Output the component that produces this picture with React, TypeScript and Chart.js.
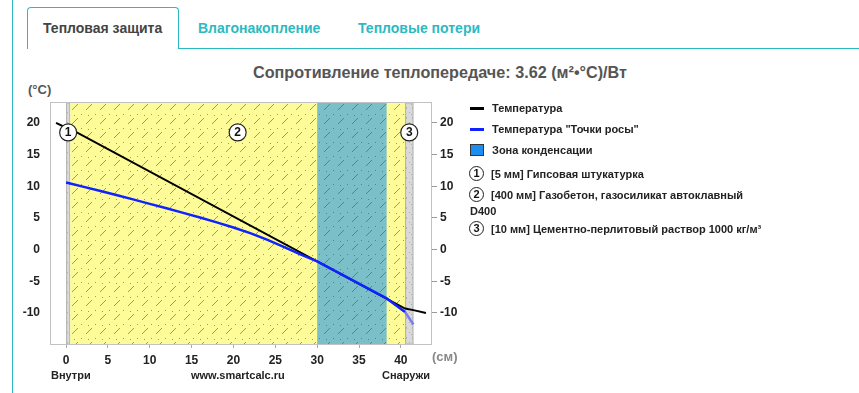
import React, { useEffect, useRef } from "react";
import Chart from "chart.js/auto";

// ---- data ----
const xTicks = [0, 5, 10, 15, 20, 25, 30, 35, 40];
const yTicks = [-10, -5, 0, 5, 10, 15, 20];
const xMin = -1.8;
const xMax = 43.6;
const yMin = -14.9;
const yMax = 23.15;

const tempX = [-1.2, 0, 0.5, 40.5, 41.5, 43];
const tempY = [20, 19.25, 19.05, -9.3, -9.55, -10];

const dewX = [0, 0.5, 2, 4, 6, 8, 10, 12, 14, 16, 18, 20, 22, 24, 26, 28, 30, 38.3, 40.5, 41.5];
const dewY = [10.6, 10.45, 9.95, 9.3, 8.62, 7.93, 7.23, 6.52, 5.8, 5.07, 4.3, 3.5, 2.6, 1.58, 0.45, -0.75, -1.85, -7.7, -9.85, -11.8];

const layerThicknessMm = [5, 400, 10];
const layerNames = [
  "Гипсовая штукатурка",
  "Газобетон, газосиликат автоклавный",
  "Цементно-перлитовый раствор 1000 кг/м³",
];
const layerKinds = ["plaster", "aerated", "plaster"];
const condensationZone = [30, 38.3];
const markerTemp = 18.5;

const titleText = "Сопротивление теплопередаче: 3.62 (м²•°C)/Вт";
const tabLabels = ["Тепловая защита", "Влагонакопление", "Тепловые потери"];

const FONT = "'Liberation Sans', Arial, sans-serif";
const TEAL = "#2bbac2";

function makeHatch(bg: string, mark: string) {
  const c = document.createElement("canvas");
  c.width = 14;
  c.height = 14;
  const g = c.getContext("2d")!;
  g.fillStyle = bg;
  g.fillRect(0, 0, 14, 14);
  g.strokeStyle = mark;
  g.lineWidth = 1;
  g.beginPath();
  g.moveTo(2, 12);
  g.lineTo(8, 6);
  g.stroke();
  g.fillStyle = mark;
  g.fillRect(11, 2, 1, 1);
  g.fillRect(4, 3, 1, 1);
  return c;
}

function makeSpeckle() {
  const c = document.createElement("canvas");
  c.width = 6;
  c.height = 10;
  const g = c.getContext("2d")!;
  g.fillStyle = "#d9d9d9";
  g.fillRect(0, 0, 6, 10);
  g.fillStyle = "#b0b0b0";
  g.fillRect(1, 2, 1, 1);
  g.fillRect(4, 7, 1, 2);
  g.fillRect(3, 4, 1, 1);
  return c;
}

function App() {
  const ref = useRef<HTMLCanvasElement | null>(null);

  useEffect(() => {
    const canvas = ref.current!;
    const starts: number[] = [];
    let acc = 0;
    layerThicknessMm.forEach((t) => {
      starts.push(acc / 10);
      acc += t;
    });
    const ends = layerThicknessMm.map((t, i) => starts[i] + t / 10);

    const bandsPlugin = {
      id: "bands",
      beforeDatasetsDraw(chart: any) {
        const { ctx, chartArea, scales } = chart;
        const xs = scales.x;
        const yellow = ctx.createPattern(makeHatch("#fdfc98", "#979780"), "repeat");
        const teal = ctx.createPattern(makeHatch("#7bbfc8", "#4b7fc4"), "repeat");
        const gray = ctx.createPattern(makeSpeckle(), "repeat");
        ctx.save();
        const top = chartArea.top;
        const h = chartArea.bottom - chartArea.top;
        layerKinds.forEach((k, i) => {
          const a = xs.getPixelForValue(starts[i]);
          const b = xs.getPixelForValue(ends[i]);
          ctx.fillStyle = k === "plaster" ? gray : yellow;
          ctx.fillRect(a, top, b - a, h);
          if (k === "plaster") {
            ctx.strokeStyle = "#b4b4b4";
            ctx.lineWidth = 1;
            ctx.strokeRect(a + 0.5, top, b - a - 1, h);
          }
        });
        const ca = xs.getPixelForValue(condensationZone[0]);
        const cb = xs.getPixelForValue(condensationZone[1]);
        ctx.fillStyle = teal;
        ctx.fillRect(ca, top, cb - ca, h);
        ctx.restore();
      },
      afterDatasetsDraw(chart: any) {
        const { ctx, chartArea, scales } = chart;
        const xs = scales.x;
        const ys = scales.y;
        ctx.save();
        ctx.strokeStyle = "#c2c2c2";
        ctx.lineWidth = 1;
        ctx.strokeRect(
          Math.round(chartArea.left) - 0.5,
          Math.round(chartArea.top) - 0.5,
          Math.round(chartArea.right - chartArea.left) + 1,
          Math.round(chartArea.bottom - chartArea.top) + 1
        );
        const cy = ys.getPixelForValue(markerTemp);
        layerThicknessMm.forEach((t, i) => {
          const cx = xs.getPixelForValue((starts[i] + ends[i]) / 2);
          ctx.beginPath();
          ctx.arc(cx, cy, 8.5, 0, Math.PI * 2);
          ctx.fillStyle = "#ffffff";
          ctx.fill();
          ctx.strokeStyle = "#222";
          ctx.lineWidth = 1.2;
          ctx.stroke();
          ctx.fillStyle = "#111";
          ctx.font = `bold 12px ${FONT}`;
          ctx.textAlign = "center";
          ctx.textBaseline = "middle";
          ctx.fillText(String(i + 1), cx, cy + 0.5);
        });
        ctx.restore();
      },
    };

    const tickFont = { family: FONT, size: 12, weight: "bold" as const };
    const chart = new Chart(canvas, {
      type: "line",
      data: {
        datasets: [
          {
            label: "Температура",
            data: tempX.map((x, i) => ({ x, y: tempY[i] })),
            borderColor: "#000000",
            borderWidth: 2,
            pointRadius: 0,
            tension: 0,
            order: 1,
          },
          {
            label: 'Температура "Точки росы"',
            data: dewX.map((x, i) => ({ x, y: dewY[i] })),
            borderColor: "#1023ff",
            borderWidth: 2.5,
            pointRadius: 0,
            tension: 0,
            order: 0,
            segment: {
              borderColor: (c: any) => (c.p0.parsed.x >= ends[1] ? "rgba(100,100,255,0.8)" : "#1023ff"),
            },
          },
        ],
      },
      options: {
        responsive: false,
        animation: false,
        layout: { padding: { left: 11, right: 396, top: 103, bottom: 24 } },
        plugins: { legend: { display: false }, title: { display: false }, tooltip: { enabled: false } },
        scales: {
          x: {
            type: "linear",
            min: xMin,
            max: xMax,
            afterBuildTicks: (s: any) => {
              s.ticks = xTicks.map((v) => ({ value: v }));
            },
            afterFit: (s: any) => {
              s.height = 25;
            },
            grid: { drawOnChartArea: false, tickLength: 4, color: "#aaaaaa" },
            border: { display: false },
            ticks: { font: tickFont, color: "#222", padding: 5, maxRotation: 0 },
          },
          y: {
            type: "linear",
            position: "left",
            min: yMin,
            max: yMax,
            afterBuildTicks: (s: any) => {
              s.ticks = yTicks.map((v) => ({ value: v }));
            },
            afterFit: (s: any) => {
              s.width = 40;
            },
            grid: { display: false, drawTicks: false },
            border: { display: false },
            ticks: { font: tickFont, color: "#222", padding: 11 },
          },
          y2: {
            type: "linear",
            position: "right",
            min: yMin,
            max: yMax,
            afterBuildTicks: (s: any) => {
              s.ticks = yTicks.map((v) => ({ value: v }));
            },
            afterFit: (s: any) => {
              s.width = 32;
            },
            grid: { drawOnChartArea: false, tickLength: 6, color: "#999999" },
            border: { display: false },
            ticks: { font: tickFont, color: "#222", padding: 3 },
          },
        },
      },
      plugins: [bandsPlugin],
    } as any);
    return () => chart.destroy();
  }, []);

  const abs = (s: React.CSSProperties): React.CSSProperties => ({ position: "absolute", whiteSpace: "nowrap", ...s });
  const legendText: React.CSSProperties = { fontSize: 11, fontWeight: "bold", color: "#222", lineHeight: "14px" };
  const circle = (n: number, left: number, top: number) => (
    <div
      style={abs({
        left,
        top,
        width: 13,
        height: 13,
        border: "1.2px solid #222",
        borderRadius: "50%",
        fontSize: 11,
        fontWeight: "bold",
        lineHeight: "13px",
        textAlign: "center",
        color: "#111",
        background: "#fff",
      })}
    >
      {n}
    </div>
  );

  return (
    <div
      style={{
        position: "absolute",
        left: 0,
        top: 0,
        width: 859,
        height: 393,
        overflow: "hidden",
        background: "#fff",
        fontFamily: FONT,
      }}
    >
      <div style={abs({ left: 12, top: 0, width: 1, height: 393, background: TEAL })} />
      <div
        style={abs({
          left: 27,
          top: 7,
          width: 152,
          height: 42,
          boxSizing: "border-box",
          border: `1px solid ${TEAL}`,
          borderBottom: "none",
          borderRadius: "4px 4px 0 0",
          background: "#fff",
        })}
      />
      <div style={abs({ left: 178, top: 48, width: 681, height: 1, background: TEAL })} />
      <div style={abs({ left: 43, top: 19, fontSize: 14, fontWeight: "bold", color: "#444", lineHeight: "18px" })}>{tabLabels[0]}</div>
      <div style={abs({ left: 198, top: 19, fontSize: 14, fontWeight: "bold", color: TEAL, lineHeight: "18px" })}>{tabLabels[1]}</div>
      <div style={abs({ left: 358, top: 19, fontSize: 14, fontWeight: "bold", color: TEAL, lineHeight: "18px" })}>{tabLabels[2]}</div>

      <div style={abs({ left: 0, width: 880, top: 62, textAlign: "center", fontSize: 16.2, fontWeight: "bold", color: "#555", lineHeight: "20px" })}>
        {titleText}
      </div>
      <div style={abs({ left: 28, top: 82, fontSize: 13, fontWeight: "bold", color: "#555", lineHeight: "16px" })}>(°C)</div>

      <canvas ref={ref} width={859} height={393} style={{ position: "absolute", left: 0, top: 0, width: 859, height: 393 }} />

      <div style={abs({ left: 432, top: 349, fontSize: 13, fontWeight: "bold", color: "#888", lineHeight: "16px" })}>(см)</div>
      <div style={abs({ left: 51, top: 368, fontSize: 11, fontWeight: "bold", color: "#222", lineHeight: "14px" })}>Внутри</div>
      <div style={abs({ left: 191, top: 368, fontSize: 11, fontWeight: "bold", color: "#222", lineHeight: "14px" })}>www.smartcalc.ru</div>
      <div style={abs({ left: 382, top: 368, fontSize: 11, fontWeight: "bold", color: "#222", lineHeight: "14px" })}>Снаружи</div>

      {/* legend */}
      <div style={abs({ left: 470, top: 107, width: 14, height: 2.5, background: "#000" })} />
      <div style={abs({ left: 492, top: 101, ...legendText })}>Температура</div>
      <div style={abs({ left: 470, top: 128, width: 14, height: 2.5, background: "#1023ff" })} />
      <div style={abs({ left: 492, top: 122, ...legendText })}>Температура "Точки росы"</div>
      <div style={abs({ left: 470, top: 144, width: 14, height: 12, boxSizing: "border-box", border: "1px solid #333", background: "#1b8ef0" })} />
      <div style={abs({ left: 492, top: 143, ...legendText })}>Зона конденсации</div>

      {circle(1, 469, 166)}
      <div style={abs({ left: 491, top: 167, ...legendText })}>{`[${layerThicknessMm[0]} мм] ${layerNames[0]}`}</div>
      {circle(2, 469, 187)}
      <div style={abs({ left: 491, top: 188, ...legendText })}>{`[${layerThicknessMm[1]} мм] ${layerNames[1]}`}</div>
      <div style={abs({ left: 470, top: 204, ...legendText })}>D400</div>
      {circle(3, 469, 221)}
      <div style={abs({ left: 491, top: 222, ...legendText })}>{`[${layerThicknessMm[2]} мм] ${layerNames[2]}`}</div>
    </div>
  );
}

export default App;
